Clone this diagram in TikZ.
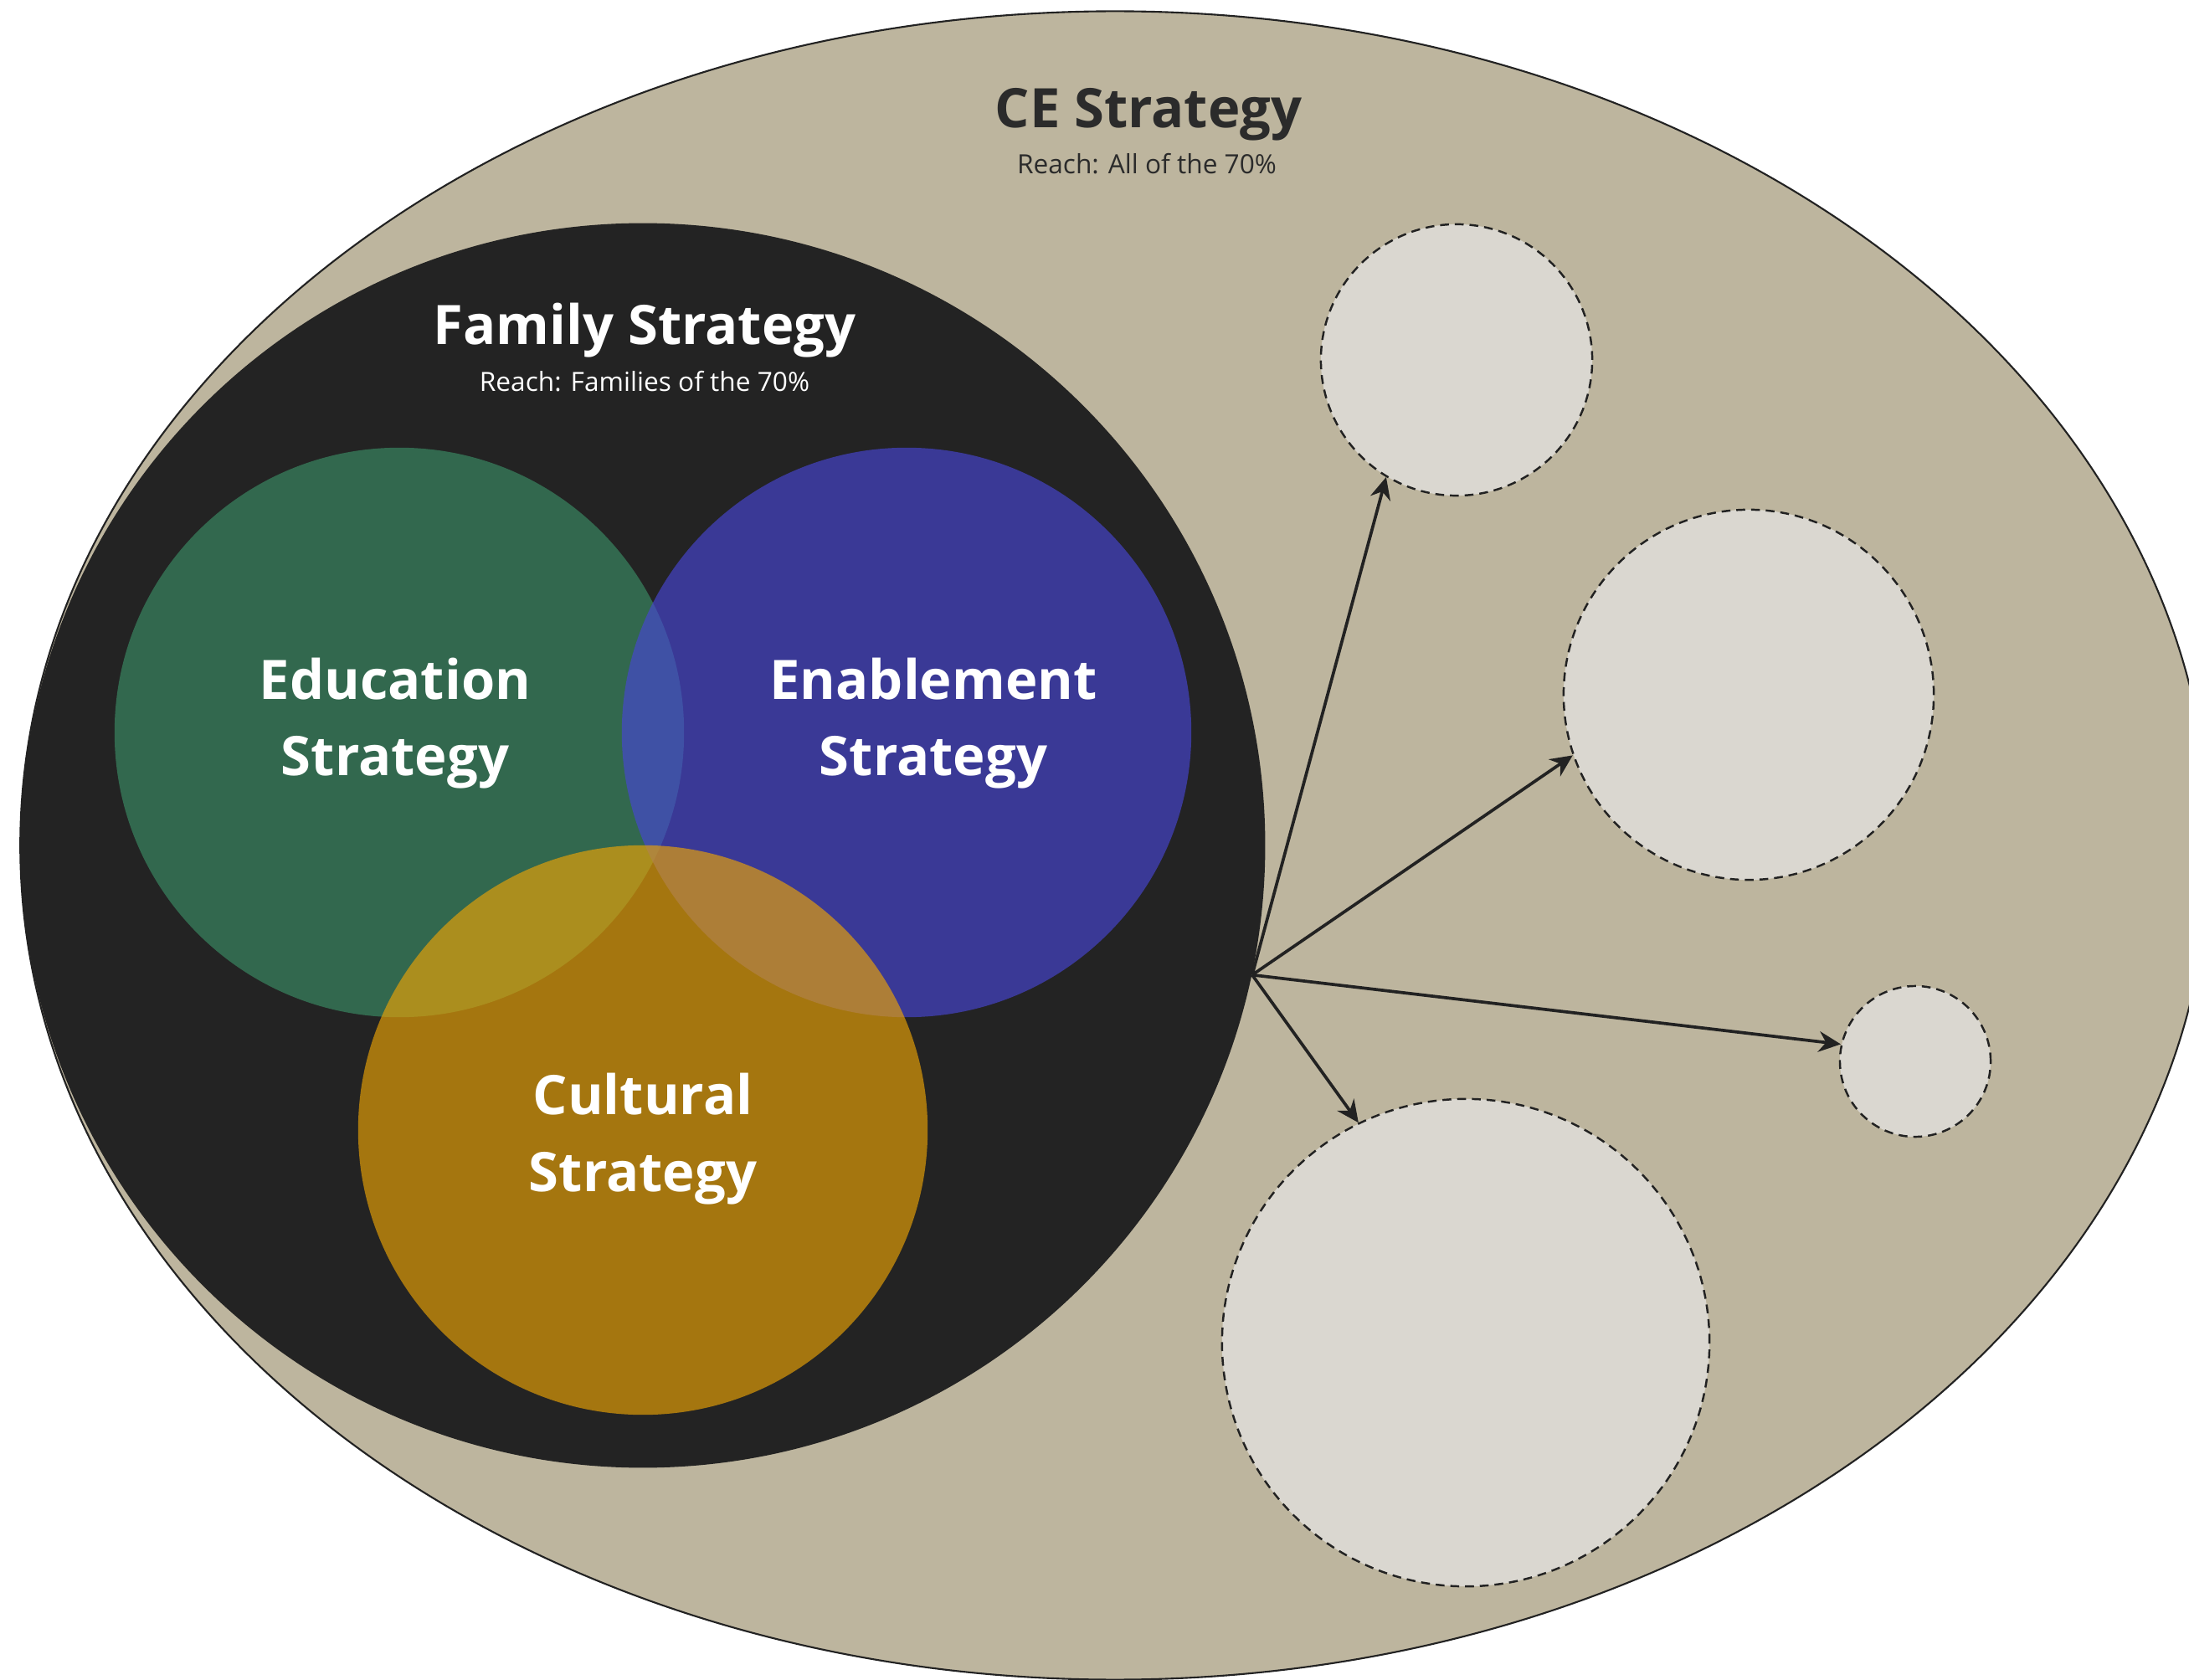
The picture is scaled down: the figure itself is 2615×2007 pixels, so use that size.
\documentclass[tikz,border=0pt]{standalone}
\usepackage{fontspec}
\setmainfont{Open Sans}
\usetikzlibrary{shapes.geometric,arrows.meta}
\definecolor{cetan}{RGB}{189,181,158}
\definecolor{famdark}{RGB}{35,35,35}
\definecolor{edugreen}{RGB}{59,142,102}
\definecolor{enablue}{RGB}{71,69,212}
\definecolor{cultorange}{RGB}{236,163,5}
\definecolor{slot}{RGB}{218,215,208}
\definecolor{ink}{RGB}{34,34,34}
\definecolor{titleink}{RGB}{43,43,43}

\begin{document}
\begin{tikzpicture}[x=0.01cm,y=-0.01cm,
  venn/.style={circle, inner sep=0pt, minimum size=6.8cm, fill opacity=0.65},
  slotcircle/.style={circle, inner sep=0pt, fill=slot, draw=ink, line width=0.7pt, dash pattern=on 3pt off 2pt},
  reacharrow/.style={draw=ink, line width=1.05pt, -{Stealth[length=7.5pt,width=7pt]}},
  bigtitle/.style={font=\fontsize{18.5pt}{26pt}\selectfont\bfseries, align=center, anchor=base},
  reachtext/.style={font=\fontsize{9pt}{11pt}\selectfont, anchor=base}
]
\useasboundingbox (0,0) rectangle (2615,2007);
\clip (0,0) rectangle (2615,2007);

% outer strategy ellipse
\node[ellipse, inner sep=0pt, minimum width=26.14cm, minimum height=19.92cm,
      fill=cetan, draw=ink, line width=0.6pt] (ce) at (1332,1010) {};

% family strategy disc
\node[circle, inner sep=0pt, minimum size=14.86cm, fill=famdark] (fam) at (768,1010) {};

% translucent Venn circles
\node[venn, fill=edugreen] (edu) at (477,875) {};
\node[venn, fill=enablue] (ena) at (1083,875) {};
\node[venn, fill=cultorange] (cul) at (768,1350) {};

% empty dashed slots
\node[slotcircle, minimum size=3.24cm] (s1) at (1740,430) {};
\node[slotcircle, minimum size=4.42cm] (s2) at (2089,830) {};
\node[slotcircle, minimum size=1.80cm] (s3) at (2288,1268) {};
\node[slotcircle, minimum size=5.82cm] (s4) at (1751,1604) {};

% arrows fanning out from the family disc
\coordinate (hub) at (fam.-12);
\draw[reacharrow] (hub) -- (s1.239);
\draw[reacharrow] (hub) -- (s2.199);
\draw[reacharrow] (hub) -- (s3.167);
\draw[reacharrow] (hub) -- (s4.116);

% titles
\node[bigtitle, text=titleink] (cetitle) at (1372,153) {CE Strategy};
\node[reachtext, text=titleink] (cereach) at (1370,208) {Reach: All of the 70\%};
\node[bigtitle, text=white] (famtitle) at (770,412) {Family Strategy};
\node[reachtext, text=white] (famreach) at (770,468) {Reach: Families of the 70\%};

% Venn labels (base anchor sits on the second line)
\node[bigtitle, text=white] (edulabel) at (472,927) {Education\\Strategy};
\node[bigtitle, text=white] (enalabel) at (1115,927) {Enablement\\Strategy};
\node[bigtitle, text=white] (cullabel) at (768,1423) {Cultural\\Strategy};
\end{tikzpicture}
\end{document}
